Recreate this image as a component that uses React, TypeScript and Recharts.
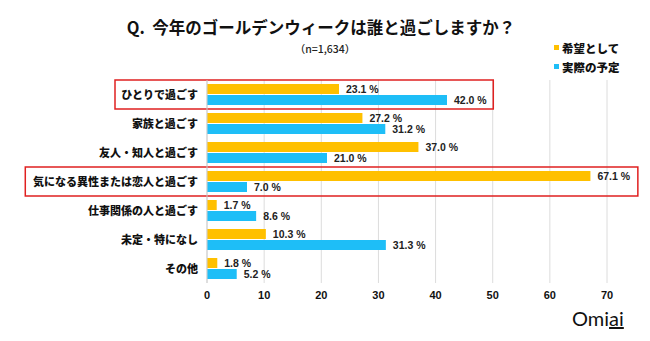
import { BarChart, Bar, XAxis, YAxis, CartesianGrid, LabelList, ReferenceArea } from 'recharts';

const categories = [
  'ひとりで過ごす',
  '家族と過ごす',
  '友人・知人と過ごす',
  '気になる異性または恋人と過ごす',
  '仕事関係の人と過ごす',
  '未定・特になし',
  'その他',
];
const hope = [23.1, 27.2, 37.0, 67.1, 1.7, 10.3, 1.8];
const actual = [42.0, 31.2, 21.0, 7.0, 8.6, 31.3, 5.2];
const xTicks = [0, 10, 20, 30, 40, 50, 60, 70];

const HOPE_COLOR = '#FFC000';
const ACTUAL_COLOR = '#1EBEF7';
const FONT = '"Noto Sans CJK JP", "Noto Sans", sans-serif';
const NUM_FONT = '"Liberation Sans", Arial, sans-serif';

const data = categories.map((name, i) => ({ name, hope: hope[i], actual: actual[i] }));

const fmt = (v: number) => `${v.toFixed(1)} %`;

function CategoryTick(props: any) {
  const { x, y, payload } = props;
  return (
    <text x={x} y={y} dy={4} textAnchor="end" fill="#111" fontSize={11} fontWeight={900} fontFamily={FONT}>
      {payload.value}
    </text>
  );
}

function LegendBox() {
  const items = [
    { label: '希望として', color: HOPE_COLOR },
    { label: '実際の予定', color: ACTUAL_COLOR },
  ];
  return (
    <div style={{ position: 'absolute', left: 554, top: 38, fontFamily: FONT, fontWeight: 900, fontSize: 11.5, color: '#111' }}>
      {items.map((it) => (
        <div key={it.label} style={{ display: 'flex', alignItems: 'center', height: 19 }}>
          <span style={{ width: 5, height: 5, background: it.color, marginRight: 3 }} />
          {it.label}
        </div>
      ))}
    </div>
  );
}

export default function App() {
  return (
    <div style={{ position: 'absolute', left: 0, top: 0, width: 650, height: 341, background: '#fff', fontFamily: FONT }}>
      <div style={{ position: 'absolute', top: 15, left: -4, width: 650, textAlign: 'center', fontSize: 16.5, fontWeight: 700, color: '#111' }}>
        Q.&nbsp;&nbsp;今年のゴールデンウィークは誰と過ごしますか？
      </div>
      <div style={{ position: 'absolute', top: 41, width: 650, textAlign: 'center', fontSize: 10.5, fontWeight: 500, color: '#222' }}>
        （n=1,634）
      </div>
      <LegendBox />
      <BarChart
        width={650}
        height={341}
        data={data}
        layout="vertical"
        margin={{ top: 80, right: 43, left: 0, bottom: 38 }}
        barSize={10}
        barGap={1}
      >
        <CartesianGrid horizontal={false} stroke="#dcdcdc" />
        <XAxis
          type="number"
          domain={[0, 70]}
          ticks={xTicks}
          axisLine={false}
          tickLine={false}
          height={20}
          tick={{ fill: '#111', fontSize: 11, fontWeight: 700, fontFamily: NUM_FONT }}
        />
        <YAxis
          type="category"
          dataKey="name"
          width={207}
          axisLine={{ stroke: '#cfcfcf' }}
          tickLine={false}
          tickMargin={3}
          tick={<CategoryTick />}
        />
        <ReferenceArea
          y1={categories[0]}
          y2={categories[0]}
          x1={-16.1}
          x2={50.1}
          ifOverflow="visible"
          fill="none"
          stroke="#E02020"
          strokeWidth={1.5}
        />
        <ReferenceArea
          y1={categories[3]}
          y2={categories[3]}
          x1={-31.8}
          x2={75.4}
          ifOverflow="visible"
          fill="none"
          stroke="#E02020"
          strokeWidth={1.5}
        />
        <Bar dataKey="hope" name="希望として" fill={HOPE_COLOR} isAnimationActive={false}>
          <LabelList
            dataKey="hope"
            position="right"
            offset={7}
            formatter={(v: any) => fmt(Number(v))}
            style={{ fill: '#222', fontSize: 10.5, fontWeight: 700, fontFamily: NUM_FONT }}
          />
        </Bar>
        <Bar dataKey="actual" name="実際の予定" fill={ACTUAL_COLOR} isAnimationActive={false}>
          <LabelList
            dataKey="actual"
            position="right"
            offset={7}
            formatter={(v: any) => fmt(Number(v))}
            style={{ fill: '#222', fontSize: 10.5, fontWeight: 700, fontFamily: NUM_FONT }}
          />
        </Bar>
      </BarChart>
      <div style={{ position: 'absolute', left: 572, top: 306, fontFamily: 'Lato, "Open Sans", sans-serif', fontSize: 20, color: '#111' }}>
        Omi<span style={{ textDecoration: 'underline', textDecorationThickness: 2 }}>ai</span>
      </div>
    </div>
  );
}
